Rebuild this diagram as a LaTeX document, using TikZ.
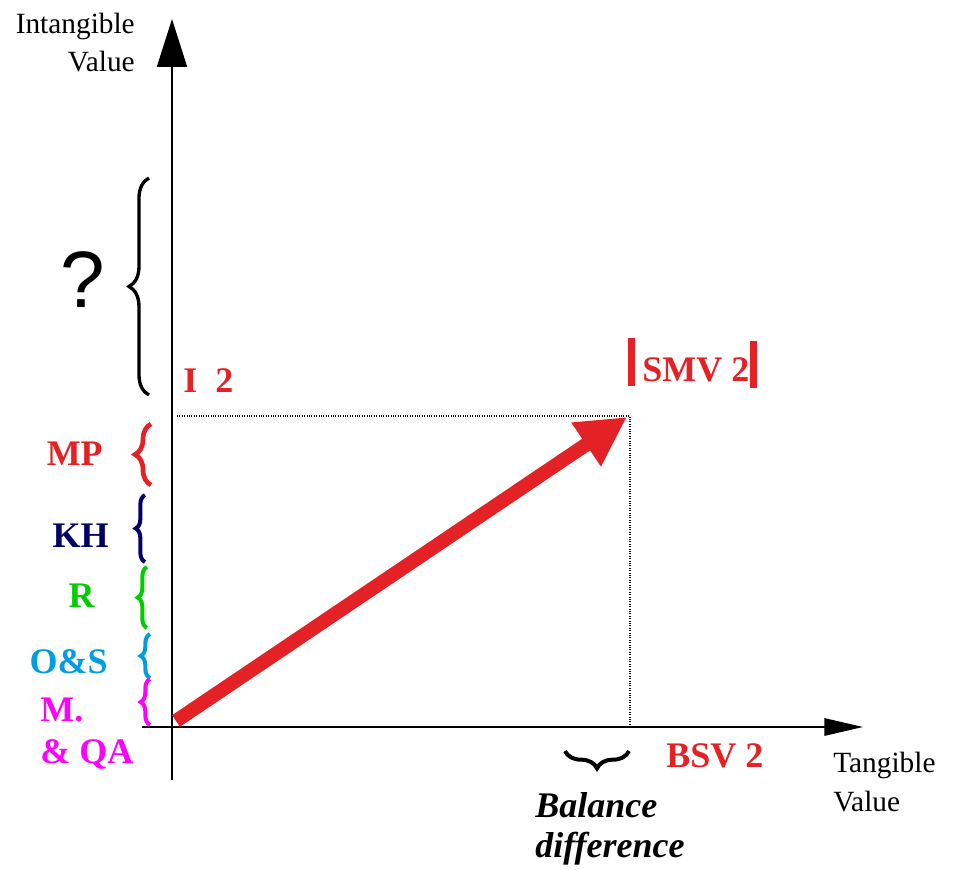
\documentclass[tikz,border=0pt]{standalone}
\usepackage{fontspec}
\setmainfont{Liberation Serif}
\newfontfamily\qfont{Liberation Sans}
\usepackage{tikz}
\usetikzlibrary{arrows.meta, decorations.pathreplacing}
\definecolor{arrowred}{RGB}{228,34,38}
\definecolor{khnavy}{RGB}{0,0,102}
\definecolor{rgreen}{RGB}{0,204,0}
\definecolor{oscyan}{RGB}{0,158,224}
\definecolor{mqamag}{RGB}{255,0,255}

\begin{document}
\begin{tikzpicture}[x=0.75pt, y=-0.75pt,
    lbl/.style={font=\bfseries\fontsize{27}{30}\selectfont, inner sep=0pt},
    axlbl/.style={font=\fontsize{22}{29}\selectfont, inner sep=0pt},
    grp/.style={decorate, decoration={brace, amplitude=#1}, line width=3pt}]
  \useasboundingbox (0,0) rectangle (956,870);

  % Osy
  \coordinate (O) at (172,727);
  \coordinate (ybot) at (172,780);
  \coordinate (ytop) at (172,19);
  \coordinate (xleft) at (142,727);
  \coordinate (xright) at (863,727);
  \draw[line width=1.5pt, -{Triangle[length=36pt,width=22.5pt]}] (ybot) -- (ytop);
  \draw[line width=1.5pt, -{Triangle[length=29pt,width=13pt]}] (xleft) -- (xright);
  \node[axlbl, align=right, anchor=base east] (ylbl) at (135,72) {Intangible\\Value};
  \node[axlbl, align=left, anchor=base west] (xlbl) at (833,811) {Tangible\\Value};

  % Tečkované průměty
  \coordinate (iv) at (177,416);
  \coordinate (corner) at (630,416);
  \coordinate (tv) at (630,727);
  \draw[densely dotted, line width=0.8pt] (iv) -- (corner) -- (tv);

  % Červená šipka
  \coordinate (start) at (176,721);
  \coordinate (smv) at (627,417);
  \draw[arrowred, line width=10.5pt, -{Triangle[length=37pt,width=37pt]}] (start) -- (smv);

  % Popisky bodů
  \node[lbl, text=arrowred, anchor=base west] (i2) at (183,392) {I\ \ 2};
  \node[lbl, text=arrowred, anchor=base west] (smvlbl) at (642,381) {SMV 2};
  \draw[arrowred, line width=5.25pt] (631.5,338) -- (631.5,386);
  \draw[arrowred, line width=5.25pt] (753.5,341) -- (753.5,388);
  \node[lbl, text=arrowred, anchor=base west] (bsv) at (666,767) {BSV 2};

  % Neznámá část
  \draw[grp=15pt, line width=2.5pt] (149,395) -- (149,178);
  \node[font=\qfont\fontsize{60}{60}\selectfont, anchor=base, inner sep=0pt] (q) at (83,307) {?};

  % Složky
  \draw[grp=12pt, arrowred, line width=3.5pt] (151,485) -- (151,424);
  \node[lbl, text=arrowred, anchor=base east] (mp) at (103,465) {MP};
  \draw[grp=7pt, khnavy] (145,562) -- (145,495);
  \node[lbl, text=khnavy, anchor=base east] (kh) at (109,547) {KH};
  \draw[grp=7pt, rgreen] (147,628) -- (147,567);
  \node[lbl, text=rgreen, anchor=base east] (r) at (95,607) {R};
  \draw[grp=7pt, oscyan] (150,678) -- (150,634);
  \node[lbl, text=oscyan, anchor=base east] (os) at (108,673) {O\&S};
  \draw[grp=7pt, mqamag] (150,725) -- (150,679);
  \node[lbl, text=mqamag, anchor=base west, align=left, font=\bfseries\fontsize{27}{31}\selectfont] (mqa) at (40,763) {M.\\\& QA};

  % Rozdíl
  \draw[grp=13pt] (629,751) -- (565,751);
  \node[font=\bfseries\itshape\fontsize{27}{30}\selectfont, inner sep=0pt, anchor=base west, align=left] (bal) at (535,857) {Balance\\difference};
\end{tikzpicture}
\end{document}
